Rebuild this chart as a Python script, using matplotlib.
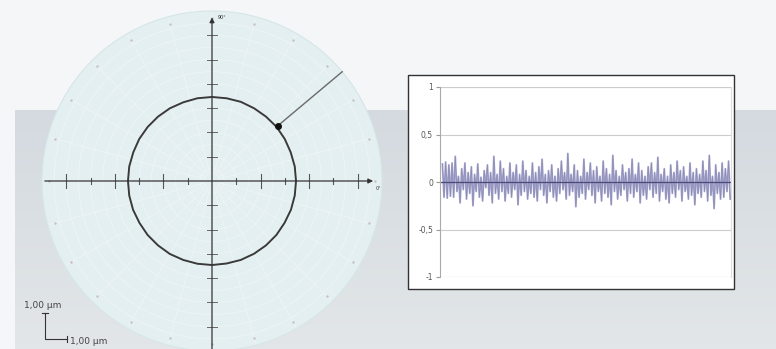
import matplotlib.pyplot as plt
import numpy as np
from matplotlib.patches import Circle, Rectangle
from matplotlib.colors import LinearSegmentedColormap

# Roundness profile (polar plot) : radius in grid units every 10 degrees
profileAngles = [0, 10, 20, 30, 40, 50, 60, 70, 80, 90, 100, 110, 120, 130, 140, 150, 160, 170,
                 180, 190, 200, 210, 220, 230, 240, 250, 260, 270, 280, 290, 300, 310, 320, 330, 340, 350]
profileRadius = [3.46, 3.46, 3.45, 3.46, 3.47, 3.46, 3.46, 3.47, 3.46, 3.46, 3.46, 3.45, 3.46, 3.46, 3.46, 3.46, 3.45, 3.46,
                 3.46, 3.46, 3.46, 3.45, 3.46, 3.46, 3.47, 3.46, 3.46, 3.46, 3.45, 3.46, 3.46, 3.46, 3.46, 3.45, 3.46, 3.46]
axisTicks = [-6, -5, -4, -3, -2, -1, 1, 2, 3, 4, 5, 6]
arrowAngle = 40
scaleLabel = '1,00 \u00b5m'

# Deviation signal shown in the right chart
signal = [0.19, -0.16, 0.21, -0.17, 0.18, -0.15, 0.2, -0.16, 0.27, -0.1,
          0.06, -0.22, 0.14, -0.08, 0.2, -0.18, 0.1, -0.12, 0.16, -0.25,
          0.08, -0.1, 0.19, -0.16, 0.05, -0.2, 0.12, -0.06, 0.18, -0.14,
          0.1, -0.22, 0.27, -0.12, 0.08, -0.18, 0.22, -0.1, 0.14, -0.2,
          0.06, -0.12, 0.2, -0.16, 0.1, -0.08, 0.18, -0.24, 0.08, -0.14,
          0.22, -0.1, 0.12, -0.18, 0.06, -0.12, 0.2, -0.16, 0.1, -0.2,
          0.16, -0.08, 0.24, -0.14, 0.08, -0.22, 0.12, -0.1, 0.18, -0.16,
          0.06, -0.2, 0.14, -0.12, 0.22, -0.08, 0.1, -0.18, 0.3, -0.14,
          0.08, -0.1, 0.18, -0.26, 0.12, -0.16, 0.06, -0.12, 0.24, -0.18,
          0.1, -0.08, 0.2, -0.14, 0.12, -0.22, 0.16, -0.1, 0.06, -0.2,
          0.22, -0.12, 0.14, -0.16, 0.08, -0.24, 0.28, -0.1, 0.12, -0.18,
          0.06, -0.14, 0.18, -0.08, 0.1, -0.2, 0.14, -0.12, 0.24, -0.16,
          0.08, -0.1, 0.2, -0.22, 0.12, -0.14, 0.06, -0.18, 0.16, -0.08,
          0.2, -0.16, 0.1, -0.12, 0.26, -0.2, 0.08, -0.1, 0.14, -0.18,
          0.06, -0.22, 0.18, -0.12, 0.1, -0.16, 0.22, -0.08, 0.12, -0.2,
          0.16, -0.1, 0.06, -0.18, 0.2, -0.14, 0.1, -0.24, 0.14, -0.12,
          0.08, -0.16, 0.22, -0.1, 0.12, -0.2, 0.28, -0.14, 0.06, -0.28,
          0.18, -0.12, 0.1, -0.18, 0.2, -0.16, 0.14, -0.1, 0.22, -0.18]
signalTicks = [-1, -0.5, 0, 0.5, 1]
signalTickLabels = ['-1', '-0,5', '0', '0,5', '1']

W, H = 776, 349
fig = plt.figure(figsize=(W / 100, H / 100), dpi=100)

# Background layer in pixel coordinates
bg = fig.add_axes([0, 0, 1, 1])
bg.add_patch(Rectangle((0, 0), W, H, facecolor='#f4f6f7', edgecolor='none'))
bandCmap = LinearSegmentedColormap.from_list('band', ['#d4dadf', '#e2e6e9'])
bg.imshow(np.linspace(0, 1, 50).reshape(-1, 1), cmap=bandCmap, aspect='auto',
          extent=(15, W, H, 110), zorder=1)
bg.set_xlim(0, W)
bg.set_ylim(H, 0)
bg.axis('off')

# Scale bar
bg.plot([45, 45, 67], [313, 339, 339], color='#333333', lw=0.8, zorder=3)
bg.plot([42, 48], [313, 313], color='#333333', lw=0.8, zorder=3)
bg.plot([67, 67], [336, 342], color='#333333', lw=0.8, zorder=3)
bg.text(24, 305, scaleLabel, fontsize=6.5, color='#444444', va='center', zorder=3)
bg.text(70, 341, scaleLabel, fontsize=6.5, color='#444444', va='center', zorder=3)

# Polar diagram
R = 7.0
ax = fig.add_axes([42 / W, -2 / H, 340 / W, 340 / H])
ax.set_xlim(-R, R)
ax.set_ylim(-R, R)
ax.set_aspect('equal')
ax.axis('off')
ax.add_patch(Circle((0, 0), R, facecolor='#e4eff1', edgecolor='#d6e6e8', lw=0.8, clip_on=False))
for r in np.arange(0.5, R, 0.5):
    ax.add_patch(Circle((0, 0), r, facecolor='none', edgecolor='#f0f6f7', lw=0.5, clip_on=False))
for a in range(0, 360, 15):
    t = np.radians(a)
    ax.plot([0.3 * np.cos(t), 6.9 * np.cos(t)], [0.3 * np.sin(t), 6.9 * np.sin(t)],
            color='#f0f6f7', lw=0.5)
    ax.plot(6.7 * np.cos(t), 6.7 * np.sin(t), marker='.', ms=1.5, color='#c8c0c0')

# Cross axes with ticks
ax.annotate('', xy=(6.75, 0), xytext=(-7, 0),
            arrowprops=dict(arrowstyle='-|>', color='#333333', lw=0.9, mutation_scale=7))
ax.annotate('', xy=(0, 6.85), xytext=(0, -7.2),
            arrowprops=dict(arrowstyle='-|>', color='#333333', lw=0.9, mutation_scale=7),
            annotation_clip=False)
for t in axisTicks:
    half = 0.28 if t % 2 == 0 else 0.13
    ax.plot([t, t], [-half, half], color='#555555', lw=0.8)
    ax.plot([-0.2, 0.2], [t, t], color='#666666', lw=0.7)
ax.text(0.25, 6.75, '90\u00b0', fontsize=3.5, color='#333333', va='center')
ax.text(6.75, -0.3, '0\u00b0', fontsize=3.5, color='#333333', va='center')

# Measured profile
theta = np.radians(profileAngles + profileAngles[:1])
rad = np.array(profileRadius + profileRadius[:1])
ax.plot(rad * np.cos(theta), rad * np.sin(theta), color='#3a3a3a', lw=1.4, solid_joinstyle='round')

# Pointer to the profile
ta = np.radians(arrowAngle)
ax.plot([3.5 * np.cos(ta), 7.0 * np.cos(ta)], [3.5 * np.sin(ta), 7.0 * np.sin(ta)],
        color='#6a6a6a', lw=1.0)
ax.plot(3.55 * np.cos(ta), 3.55 * np.sin(ta), marker='o', ms=4, color='#111111')

# Signal chart box
bg.add_patch(Rectangle((408, 75), 326, 214, facecolor='white', edgecolor='#333333', lw=1.0, zorder=4))
sx = fig.add_axes([440 / W, (H - 277) / H, 291 / W, 190 / H], zorder=5)
sx.patch.set_alpha(0)
sx.plot(range(len(signal)), signal, color='#a4a4d4', lw=1.3)
sx.plot(range(len(signal)), signal, color='#8a8aa8', lw=0.4)
sx.axhline(0, color='#4a4a78', lw=0.9)
sx.set_xlim(-1.5, len(signal) - 0.5)
sx.set_ylim(-1, 1)
sx.set_yticks(signalTicks)
sx.set_yticklabels(signalTickLabels)
sx.set_xticks([])
sx.grid(True, axis='y', color='#cccccc', lw=0.8)
sx.tick_params(axis='y', labelsize=5.5, labelcolor='#555555', color='#999999', length=3, pad=2)
for side in ['top', 'bottom']:
    sx.spines[side].set_visible(False)
sx.spines['left'].set_color('#aaaaaa')
sx.spines['right'].set_color('#dddddd')
sx.axhline(1, color='#cccccc', lw=0.8)
sx.axhline(-1, color='#cccccc', lw=0.8)

plt.savefig('out.png', dpi=100)
